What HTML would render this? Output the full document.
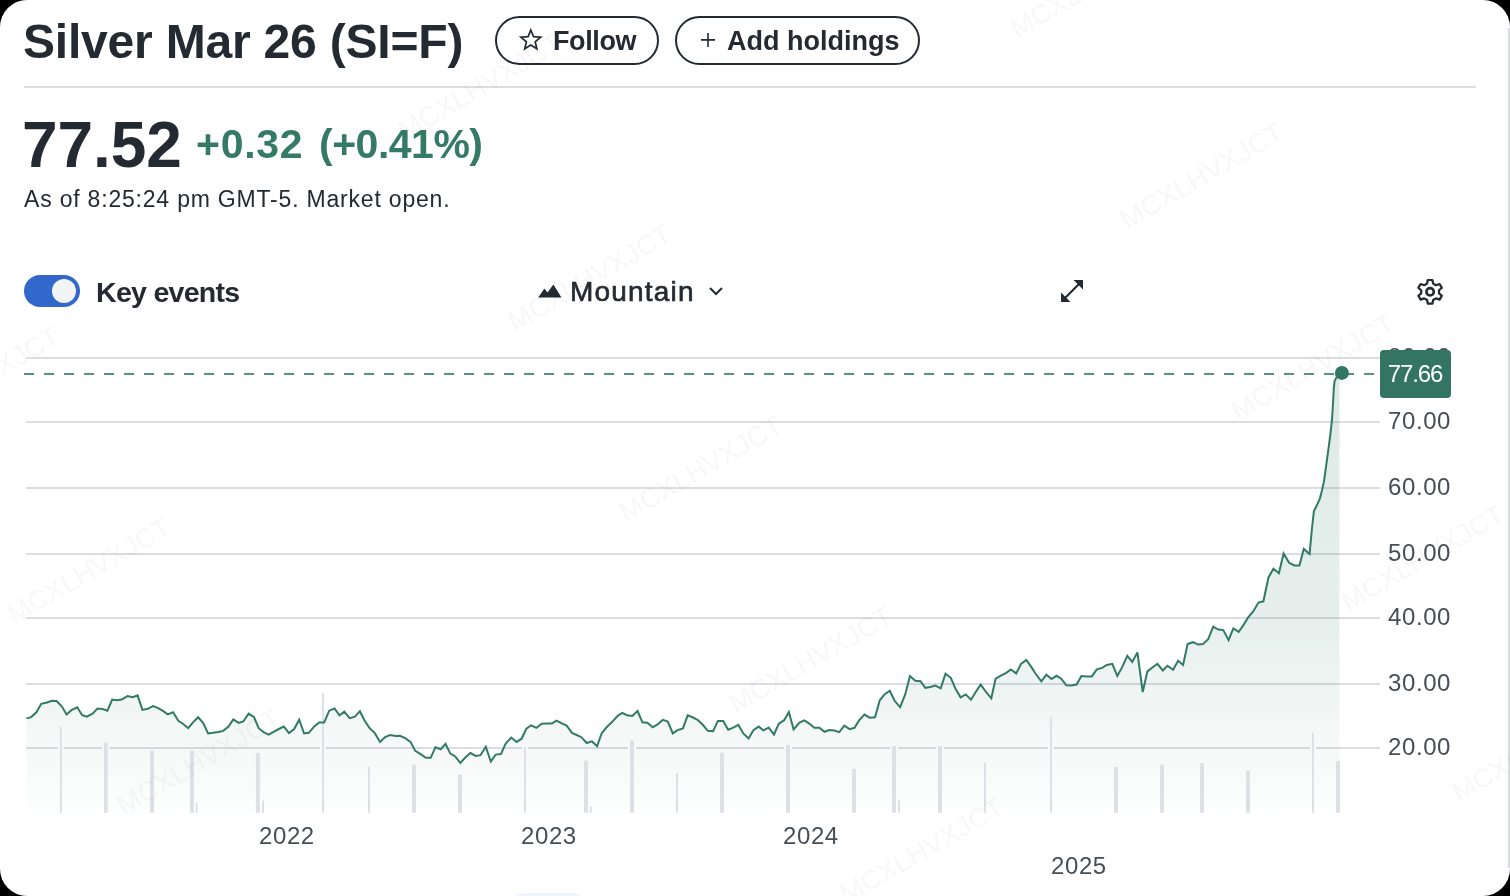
<!DOCTYPE html>
<html><head><meta charset="utf-8">
<style>
html,body{margin:0;padding:0;background:#000;}
body{width:1510px;height:896px;overflow:hidden;position:relative;font-family:"Liberation Sans",sans-serif;color:#232a31;}
.card{position:absolute;left:0;top:0;width:1510px;height:896px;background:#fff;border-radius:27px;overflow:hidden;}
.strip{position:absolute;left:1508px;top:28px;width:2px;height:840px;background:#dcdde1;}
.abs{position:absolute;white-space:nowrap;}
.title{left:23px;top:13.5px;font-size:48px;font-weight:bold;line-height:56px;letter-spacing:-0.2px;}
.btn{position:absolute;top:16px;height:45px;border:2px solid #232a31;border-radius:26px;box-sizing:content-box;}
.btn span{position:absolute;font-size:27px;font-weight:bold;line-height:30px;top:8px;}
.divider{position:absolute;left:24px;top:86px;width:1452px;height:2px;background:#dcdde2;}
.price{left:22px;top:105px;font-size:64px;font-weight:bold;line-height:80px;letter-spacing:-0.1px;}
.chg{font-size:41px;font-weight:bold;color:#347a67;line-height:50px;top:119px;}
.asof{left:24px;top:185px;font-size:23px;line-height:28px;color:#232a31;letter-spacing:0.8px;}
.toggle{position:absolute;left:24px;top:275px;width:56px;height:32px;border-radius:16px;background:#3267cc;}
.knob{position:absolute;left:28px;top:4px;width:24px;height:24px;border-radius:12px;background:#f3f4f6;}
.ke{left:96px;top:274.5px;font-size:28.5px;font-weight:bold;line-height:34px;letter-spacing:-0.7px;}
.mt{left:570px;top:275px;font-size:28px;line-height:34px;font-weight:normal;-webkit-text-stroke:0.65px #232a31;letter-spacing:1.2px;}
.ylab{position:absolute;left:1388px;font-size:24px;line-height:24px;color:#464e56;letter-spacing:0.6px;margin-top:-1px;}
.xlab{position:absolute;font-size:24px;line-height:24px;color:#464e56;letter-spacing:0.6px;}
.chart{position:absolute;left:0;top:0;}
.pricebox{position:absolute;left:1380px;top:350px;width:71px;height:48px;border-radius:4px;background:#337562;color:#fff;font-size:24px;line-height:48px;text-align:center;letter-spacing:-1.1px;text-indent:-1px;}
.wm{position:absolute;width:220px;height:32px;font-size:27.5px;line-height:32px;text-align:center;color:rgba(0,0,0,0.03);transform:rotate(-30deg);font-weight:normal;}
</style></head><body>
<div class="card" style="will-change:transform">
<div class="strip"></div>
<div class="abs title">Silver Mar 26 (SI=F)</div>
<div class="btn" style="left:495px;width:160px;">
  <span style="left:56px;font-size:27px;top:7.5px;letter-spacing:-0.4px">Follow</span>
</div>
<div class="btn" style="left:675px;width:241px;">
  <span style="left:50px;top:8px">Add holdings</span>
</div>
<svg style="position:absolute;left:0;top:0" width="1510" height="320" viewBox="0 0 1510 320">
<path d="M530.80 30.00 L533.50 36.68 L540.69 37.19 L535.17 41.82 L536.91 48.81 L530.80 45.00 L524.69 48.81 L526.43 41.82 L520.91 37.19 L528.10 36.68 Z" fill="none" stroke="#232a31" stroke-width="1.7" stroke-linejoin="miter"/>
<path d="M708 32.9 V46.9 M701 39.9 H715" stroke="#232a31" stroke-width="1.6"/>
<path d="M538.2 297.4 L544.4 288.4 L547.5 292.6 L553.4 284.4 L561.5 297.4 Z" fill="#232a31"/>
<path d="M710 288 L716 294 L722 288" fill="none" stroke="#232a31" stroke-width="2"/>
<path d="M1073.5 280 H1083 V289.5 Z M1061 292.5 V302 H1070.5 Z" fill="#232a31"/><path d="M1064.5 298.5 L1079.5 283.5" stroke="#232a31" stroke-width="2.2"/>
<g transform="translate(1415.4,278) scale(1.05,1.0)"><path d="M11.8 2 H16.2 L16.9 5.6 L19.6 7.2 L23 6 L25.2 9.8 L22.5 12.2 V15.4 L25.2 17.8 L23 21.6 L19.6 20.4 L16.9 22 L16.2 25.6 H11.8 L11.1 22 L8.4 20.4 L5 21.6 L2.8 17.8 L5.5 15.4 V12.2 L2.8 9.8 L5 6 L8.4 7.2 L11.1 5.6 Z" fill="none" stroke="#232a31" stroke-width="2.2" stroke-linejoin="round"/></g>
<circle cx="1430.1" cy="291.8" r="3.7" fill="none" stroke="#232a31" stroke-width="2.6"/>
</svg>
<div class="divider"></div>
<div class="abs price">77.52</div>
<div class="abs chg" style="left:196px;letter-spacing:0.7px">+0.32</div>
<div class="abs chg" style="left:319px;letter-spacing:-0.5px">(+0.41%)</div>
<div class="abs asof">As of 8:25:24 pm GMT-5. Market open.</div>
<div class="toggle"><div class="knob"></div></div>
<div class="abs ke">Key events</div>
<div class="abs mt">Mountain</div>
<svg class="chart" width="1510" height="896" viewBox="0 0 1510 896">
<defs><linearGradient id="fg" x1="0" y1="373" x2="0" y2="813" gradientUnits="userSpaceOnUse"><stop offset="0" stop-color="#2f7a62" stop-opacity="0.16"/><stop offset="0.55" stop-color="#2f7a62" stop-opacity="0.12"/><stop offset="0.85" stop-color="#2f7a62" stop-opacity="0.045"/><stop offset="1" stop-color="#2f7a62" stop-opacity="0.01"/></linearGradient></defs>
<rect x="26" y="357" width="1354" height="2" fill="#dcdde2"/>
<rect x="26" y="421" width="1354" height="2" fill="#dcdde2"/>
<rect x="26" y="487" width="1354" height="2" fill="#dcdde2"/>
<rect x="26" y="553" width="1354" height="2" fill="#dcdde2"/>
<rect x="26" y="617" width="1354" height="2" fill="#dcdde2"/>
<rect x="26" y="683" width="1354" height="2" fill="#dcdde2"/>
<rect x="26" y="747" width="1354" height="2" fill="#dcdde2"/>
<rect x="57.9" y="726.7" width="6.0" height="86.1" fill="#fff"/>
<rect x="102.0" y="742.7" width="7.8" height="70.1" fill="#fff"/>
<rect x="148.0" y="750.8" width="8.0" height="62.0" fill="#fff"/>
<rect x="188.0" y="750.8" width="8.0" height="62.0" fill="#fff"/>
<rect x="193.6" y="802.8" width="6.0" height="10.0" fill="#fff"/>
<rect x="253.9" y="752.9" width="8.0" height="59.9" fill="#fff"/>
<rect x="260.0" y="800.7" width="6.0" height="12.1" fill="#fff"/>
<rect x="320.0" y="692.9" width="6.0" height="119.9" fill="#fff"/>
<rect x="366.0" y="767.0" width="6.0" height="45.8" fill="#fff"/>
<rect x="410.0" y="764.7" width="8.0" height="48.1" fill="#fff"/>
<rect x="456.0" y="774.7" width="8.0" height="38.1" fill="#fff"/>
<rect x="522.0" y="747.2" width="6.0" height="65.6" fill="#fff"/>
<rect x="582.0" y="760.6" width="8.0" height="52.2" fill="#fff"/>
<rect x="587.8" y="806.6" width="6.0" height="6.2" fill="#fff"/>
<rect x="628.0" y="740.6" width="8.0" height="72.2" fill="#fff"/>
<rect x="674.0" y="773.0" width="6.0" height="39.8" fill="#fff"/>
<rect x="718.0" y="752.7" width="8.0" height="60.1" fill="#fff"/>
<rect x="784.0" y="745.0" width="8.0" height="67.8" fill="#fff"/>
<rect x="850.0" y="768.7" width="8.0" height="44.1" fill="#fff"/>
<rect x="890.0" y="746.0" width="8.0" height="66.8" fill="#fff"/>
<rect x="896.0" y="800.5" width="6.0" height="12.3" fill="#fff"/>
<rect x="936.0" y="746.0" width="8.0" height="66.8" fill="#fff"/>
<rect x="982.0" y="762.6" width="6.0" height="50.2" fill="#fff"/>
<rect x="1048.0" y="717.0" width="6.0" height="95.8" fill="#fff"/>
<rect x="1112.0" y="767.0" width="8.0" height="45.8" fill="#fff"/>
<rect x="1158.0" y="764.7" width="8.0" height="48.1" fill="#fff"/>
<rect x="1198.0" y="763.0" width="8.0" height="49.8" fill="#fff"/>
<rect x="1244.0" y="770.7" width="8.0" height="42.1" fill="#fff"/>
<rect x="1310.0" y="732.8" width="6.0" height="80.0" fill="#fff"/>
<rect x="1334.0" y="760.9" width="8.0" height="51.9" fill="#fff"/>
<path d="M26.4,718.4 L31.1,717.1 L36.4,712.3 L41.2,703.8 L47.0,702.5 L51.8,700.7 L56.6,701.0 L61.9,706.5 L66.6,714.4 L71.4,710.2 L77.2,707.3 L82.0,715.0 L86.8,716.6 L92.6,713.7 L97.4,708.6 L102.6,709.1 L107.4,710.7 L112.2,699.6 L117.0,700.3 L121.7,699.6 L127.5,696.1 L132.8,697.2 L137.6,695.4 L142.4,709.9 L147.7,708.8 L153.0,706.0 L157.7,707.8 L162.5,710.7 L167.8,714.4 L173.1,712.3 L178.4,720.8 L182.9,723.7 L188.2,728.2 L193.0,722.4 L198.1,717.3 L203.1,722.9 L208.1,733.5 L213.1,732.8 L218.4,731.9 L223.2,730.9 L228.5,726.6 L233.3,719.4 L238.6,722.9 L243.3,721.5 L248.6,713.7 L253.9,716.9 L258.7,728.2 L264.0,732.5 L268.8,734.6 L273.5,731.9 L278.8,729.0 L283.9,726.6 L288.9,733.0 L294.2,729.0 L299.2,719.7 L304.1,733.5 L308.7,732.8 L314.3,726.4 L319.1,722.4 L324.2,722.4 L329.2,710.7 L334.5,708.4 L339.5,715.4 L344.3,711.7 L349.6,718.1 L354.9,716.7 L359.9,711.2 L364.4,720.2 L369.2,727.6 L375.0,733.4 L380.0,741.9 L385.1,737.2 L389.9,735.0 L395.7,736.1 L399.9,735.8 L405.2,738.2 L410.5,741.9 L415.3,750.9 L420.6,754.1 L425.9,757.8 L430.7,757.8 L435.4,747.2 L440.7,749.3 L445.5,743.8 L450.3,753.6 L455.0,756.2 L460.3,762.9 L465.6,757.3 L470.4,753.0 L475.7,755.9 L480.5,755.2 L485.8,746.7 L490.8,761.5 L495.6,754.6 L500.9,754.1 L505.7,743.5 L511.3,737.5 L516.6,741.9 L521.6,738.7 L526.3,728.7 L531.1,725.3 L536.4,727.9 L541.7,723.7 L546.5,723.4 L551.8,723.4 L556.5,720.7 L561.8,723.4 L566.6,725.5 L571.9,732.9 L576.7,735.0 L581.4,737.2 L586.7,743.0 L592.0,741.4 L597.1,746.2 L601.6,733.4 L606.6,727.3 L612.2,721.8 L617.5,716.0 L622.2,712.8 L627.0,715.2 L632.3,716.0 L637.6,711.0 L642.4,722.3 L647.4,722.8 L652.7,727.3 L657.5,724.4 L662.8,719.9 L667.8,721.6 L672.8,733.4 L677.6,730.1 L682.9,728.4 L687.7,715.4 L693.0,717.5 L698.1,720.2 L703.0,725.0 L707.8,730.8 L713.1,731.1 L717.9,720.9 L723.2,720.9 L728.2,729.7 L733.2,727.6 L738.3,724.8 L743.3,733.4 L748.6,738.5 L753.4,730.3 L758.7,726.6 L763.4,730.3 L768.7,727.6 L774.0,734.5 L778.8,723.7 L784.1,720.2 L788.9,712.0 L793.6,729.4 L799.5,722.6 L804.3,720.4 L809.3,723.6 L814.3,727.8 L819.4,727.8 L824.5,731.8 L829.4,730.1 L834.4,730.5 L839.3,732.1 L844.3,725.7 L849.6,729.1 L854.5,727.8 L859.1,720.4 L864.4,714.6 L869.7,717.7 L875.0,717.2 L879.8,700.3 L884.5,694.4 L889.8,690.7 L894.6,700.8 L900.1,707.2 L905.2,694.4 L910.0,676.1 L915.3,680.7 L920.6,681.2 L925.3,687.8 L930.4,687.0 L935.4,685.6 L940.7,688.4 L945.5,673.6 L950.8,677.8 L955.8,689.3 L960.6,697.3 L965.7,694.4 L971.0,699.7 L976.0,691.5 L980.7,684.6 L986.0,692.0 L991.3,698.3 L995.6,678.7 L1000.9,675.6 L1006.2,672.9 L1010.9,669.4 L1016.2,673.4 L1021.0,663.9 L1026.3,659.9 L1031.1,666.6 L1035.8,674.0 L1041.3,681.4 L1046.4,674.7 L1051.5,679.0 L1056.5,675.8 L1061.3,678.7 L1066.3,685.3 L1071.3,685.6 L1076.6,684.6 L1081.4,676.1 L1086.7,676.6 L1091.8,676.4 L1096.8,669.4 L1102.1,667.9 L1106.8,665.0 L1112.3,663.8 L1117.3,675.9 L1122.3,666.9 L1127.3,655.8 L1132.3,661.9 L1137.4,652.4 L1142.7,692.0 L1147.4,671.4 L1152.4,667.5 L1157.4,663.8 L1162.8,670.5 L1167.5,665.8 L1173.1,669.7 L1178.1,660.8 L1183.1,664.9 L1187.6,644.1 L1193.1,642.2 L1198.2,644.6 L1203.0,644.1 L1208.2,639.1 L1213.2,626.6 L1218.3,629.6 L1223.3,630.1 L1228.6,640.2 L1233.3,628.5 L1238.7,631.8 L1243.4,625.1 L1247.8,617.9 L1253.4,611.2 L1258.4,602.5 L1263.4,601.3 L1268.4,577.7 L1273.4,568.8 L1278.9,573.3 L1283.6,553.4 L1289.1,562.8 L1294.4,565.5 L1299.4,565.5 L1303.8,548.9 L1309.6,553.9 L1311.8,530.0 L1313.9,511.1 L1316.1,506.8 L1319.8,498.8 L1321.9,490.8 L1324.1,480.6 L1326.3,464.7 L1328.5,448.7 L1330.3,435.0 L1332.0,419.7 L1333.2,400.0 L1333.8,388.0 L1334.6,381.0 L1336.3,377.8 L1339.5,375.5 L1339.5,812.8 L26.4,812.8 Z" fill="url(#fg)"/>
<rect x="59.9" y="726.7" width="2.0" height="86.1" fill="#dde1e5"/>
<rect x="104.0" y="742.7" width="3.8" height="70.1" fill="#dde1e5"/>
<rect x="150.0" y="750.8" width="4.0" height="62.0" fill="#dde1e5"/>
<rect x="190.0" y="750.8" width="4.0" height="62.0" fill="#dde1e5"/>
<rect x="195.6" y="802.8" width="2.0" height="10.0" fill="#dde1e5"/>
<rect x="255.9" y="752.9" width="4.0" height="59.9" fill="#dde1e5"/>
<rect x="262.0" y="800.7" width="2.0" height="12.1" fill="#dde1e5"/>
<rect x="322.0" y="692.9" width="2.0" height="119.9" fill="#dde1e5"/>
<rect x="368.0" y="767.0" width="2.0" height="45.8" fill="#dde1e5"/>
<rect x="412.0" y="764.7" width="4.0" height="48.1" fill="#dde1e5"/>
<rect x="458.0" y="774.7" width="4.0" height="38.1" fill="#dde1e5"/>
<rect x="524.0" y="747.2" width="2.0" height="65.6" fill="#dde1e5"/>
<rect x="584.0" y="760.6" width="4.0" height="52.2" fill="#dde1e5"/>
<rect x="589.8" y="806.6" width="2.0" height="6.2" fill="#dde1e5"/>
<rect x="630.0" y="740.6" width="4.0" height="72.2" fill="#dde1e5"/>
<rect x="676.0" y="773.0" width="2.0" height="39.8" fill="#dde1e5"/>
<rect x="720.0" y="752.7" width="4.0" height="60.1" fill="#dde1e5"/>
<rect x="786.0" y="745.0" width="4.0" height="67.8" fill="#dde1e5"/>
<rect x="852.0" y="768.7" width="4.0" height="44.1" fill="#dde1e5"/>
<rect x="892.0" y="746.0" width="4.0" height="66.8" fill="#dde1e5"/>
<rect x="898.0" y="800.5" width="2.0" height="12.3" fill="#dde1e5"/>
<rect x="938.0" y="746.0" width="4.0" height="66.8" fill="#dde1e5"/>
<rect x="984.0" y="762.6" width="2.0" height="50.2" fill="#dde1e5"/>
<rect x="1050.0" y="717.0" width="2.0" height="95.8" fill="#dde1e5"/>
<rect x="1114.0" y="767.0" width="4.0" height="45.8" fill="#dde1e5"/>
<rect x="1160.0" y="764.7" width="4.0" height="48.1" fill="#dde1e5"/>
<rect x="1200.0" y="763.0" width="4.0" height="49.8" fill="#dde1e5"/>
<rect x="1246.0" y="770.7" width="4.0" height="42.1" fill="#dde1e5"/>
<rect x="1312.0" y="732.8" width="2.0" height="80.0" fill="#dde1e5"/>
<rect x="1336.0" y="760.9" width="4.0" height="51.9" fill="#dde1e5"/>
<path d="M26.4,718.4 L31.1,717.1 L36.4,712.3 L41.2,703.8 L47.0,702.5 L51.8,700.7 L56.6,701.0 L61.9,706.5 L66.6,714.4 L71.4,710.2 L77.2,707.3 L82.0,715.0 L86.8,716.6 L92.6,713.7 L97.4,708.6 L102.6,709.1 L107.4,710.7 L112.2,699.6 L117.0,700.3 L121.7,699.6 L127.5,696.1 L132.8,697.2 L137.6,695.4 L142.4,709.9 L147.7,708.8 L153.0,706.0 L157.7,707.8 L162.5,710.7 L167.8,714.4 L173.1,712.3 L178.4,720.8 L182.9,723.7 L188.2,728.2 L193.0,722.4 L198.1,717.3 L203.1,722.9 L208.1,733.5 L213.1,732.8 L218.4,731.9 L223.2,730.9 L228.5,726.6 L233.3,719.4 L238.6,722.9 L243.3,721.5 L248.6,713.7 L253.9,716.9 L258.7,728.2 L264.0,732.5 L268.8,734.6 L273.5,731.9 L278.8,729.0 L283.9,726.6 L288.9,733.0 L294.2,729.0 L299.2,719.7 L304.1,733.5 L308.7,732.8 L314.3,726.4 L319.1,722.4 L324.2,722.4 L329.2,710.7 L334.5,708.4 L339.5,715.4 L344.3,711.7 L349.6,718.1 L354.9,716.7 L359.9,711.2 L364.4,720.2 L369.2,727.6 L375.0,733.4 L380.0,741.9 L385.1,737.2 L389.9,735.0 L395.7,736.1 L399.9,735.8 L405.2,738.2 L410.5,741.9 L415.3,750.9 L420.6,754.1 L425.9,757.8 L430.7,757.8 L435.4,747.2 L440.7,749.3 L445.5,743.8 L450.3,753.6 L455.0,756.2 L460.3,762.9 L465.6,757.3 L470.4,753.0 L475.7,755.9 L480.5,755.2 L485.8,746.7 L490.8,761.5 L495.6,754.6 L500.9,754.1 L505.7,743.5 L511.3,737.5 L516.6,741.9 L521.6,738.7 L526.3,728.7 L531.1,725.3 L536.4,727.9 L541.7,723.7 L546.5,723.4 L551.8,723.4 L556.5,720.7 L561.8,723.4 L566.6,725.5 L571.9,732.9 L576.7,735.0 L581.4,737.2 L586.7,743.0 L592.0,741.4 L597.1,746.2 L601.6,733.4 L606.6,727.3 L612.2,721.8 L617.5,716.0 L622.2,712.8 L627.0,715.2 L632.3,716.0 L637.6,711.0 L642.4,722.3 L647.4,722.8 L652.7,727.3 L657.5,724.4 L662.8,719.9 L667.8,721.6 L672.8,733.4 L677.6,730.1 L682.9,728.4 L687.7,715.4 L693.0,717.5 L698.1,720.2 L703.0,725.0 L707.8,730.8 L713.1,731.1 L717.9,720.9 L723.2,720.9 L728.2,729.7 L733.2,727.6 L738.3,724.8 L743.3,733.4 L748.6,738.5 L753.4,730.3 L758.7,726.6 L763.4,730.3 L768.7,727.6 L774.0,734.5 L778.8,723.7 L784.1,720.2 L788.9,712.0 L793.6,729.4 L799.5,722.6 L804.3,720.4 L809.3,723.6 L814.3,727.8 L819.4,727.8 L824.5,731.8 L829.4,730.1 L834.4,730.5 L839.3,732.1 L844.3,725.7 L849.6,729.1 L854.5,727.8 L859.1,720.4 L864.4,714.6 L869.7,717.7 L875.0,717.2 L879.8,700.3 L884.5,694.4 L889.8,690.7 L894.6,700.8 L900.1,707.2 L905.2,694.4 L910.0,676.1 L915.3,680.7 L920.6,681.2 L925.3,687.8 L930.4,687.0 L935.4,685.6 L940.7,688.4 L945.5,673.6 L950.8,677.8 L955.8,689.3 L960.6,697.3 L965.7,694.4 L971.0,699.7 L976.0,691.5 L980.7,684.6 L986.0,692.0 L991.3,698.3 L995.6,678.7 L1000.9,675.6 L1006.2,672.9 L1010.9,669.4 L1016.2,673.4 L1021.0,663.9 L1026.3,659.9 L1031.1,666.6 L1035.8,674.0 L1041.3,681.4 L1046.4,674.7 L1051.5,679.0 L1056.5,675.8 L1061.3,678.7 L1066.3,685.3 L1071.3,685.6 L1076.6,684.6 L1081.4,676.1 L1086.7,676.6 L1091.8,676.4 L1096.8,669.4 L1102.1,667.9 L1106.8,665.0 L1112.3,663.8 L1117.3,675.9 L1122.3,666.9 L1127.3,655.8 L1132.3,661.9 L1137.4,652.4 L1142.7,692.0 L1147.4,671.4 L1152.4,667.5 L1157.4,663.8 L1162.8,670.5 L1167.5,665.8 L1173.1,669.7 L1178.1,660.8 L1183.1,664.9 L1187.6,644.1 L1193.1,642.2 L1198.2,644.6 L1203.0,644.1 L1208.2,639.1 L1213.2,626.6 L1218.3,629.6 L1223.3,630.1 L1228.6,640.2 L1233.3,628.5 L1238.7,631.8 L1243.4,625.1 L1247.8,617.9 L1253.4,611.2 L1258.4,602.5 L1263.4,601.3 L1268.4,577.7 L1273.4,568.8 L1278.9,573.3 L1283.6,553.4 L1289.1,562.8 L1294.4,565.5 L1299.4,565.5 L1303.8,548.9 L1309.6,553.9 L1311.8,530.0 L1313.9,511.1 L1316.1,506.8 L1319.8,498.8 L1321.9,490.8 L1324.1,480.6 L1326.3,464.7 L1328.5,448.7 L1330.3,435.0 L1332.0,419.7 L1333.2,400.0 L1333.8,388.0 L1334.6,381.0 L1336.3,377.8 L1339.5,375.5" fill="none" stroke="#317b66" stroke-width="2.0" stroke-linejoin="miter" stroke-miterlimit="3" stroke-linecap="butt"/>
<line x1="24" y1="374" x2="1380" y2="374" stroke="#579380" stroke-width="2" stroke-dasharray="10 10"/>
<circle cx="1341.9" cy="372.9" r="7" fill="#337562"/>
</svg>
<div class="ylab" style="top:346px">80.00</div>
<div class="ylab" style="top:410px">70.00</div>
<div class="ylab" style="top:476px">60.00</div>
<div class="ylab" style="top:542px">50.00</div>
<div class="ylab" style="top:606px">40.00</div>
<div class="ylab" style="top:672px">30.00</div>
<div class="ylab" style="top:736px">20.00</div>
<div class="pricebox">77.66</div>
<div class="xlab" style="left:259px;top:824px">2022</div>
<div class="xlab" style="left:521px;top:824px">2023</div>
<div class="xlab" style="left:783px;top:824px">2024</div>
<div class="xlab" style="left:1051px;top:854px">2025</div>
<div style="position:absolute;left:512px;top:893px;width:73px;height:24px;border-radius:12px;background:#eef5fd;"></div>
<div class="wm" style="left:-242.5px;top:173px">MCXLHVXJCT</div>
<div class="wm" style="left:-132.0px;top:364px">MCXLHVXJCT</div>
<div class="wm" style="left:-21.5px;top:555px">MCXLHVXJCT</div>
<div class="wm" style="left:89.0px;top:746px">MCXLHVXJCT</div>
<div class="wm" style="left:199.5px;top:937px">MCXLHVXJCT</div>
<div class="wm" style="left:369.5px;top:71px">MCXLHVXJCT</div>
<div class="wm" style="left:480.0px;top:262px">MCXLHVXJCT</div>
<div class="wm" style="left:590.5px;top:453px">MCXLHVXJCT</div>
<div class="wm" style="left:701.0px;top:644px">MCXLHVXJCT</div>
<div class="wm" style="left:811.5px;top:835px">MCXLHVXJCT</div>
<div class="wm" style="left:981.5px;top:-31px">MCXLHVXJCT</div>
<div class="wm" style="left:1092.0px;top:160px">MCXLHVXJCT</div>
<div class="wm" style="left:1202.5px;top:351px">MCXLHVXJCT</div>
<div class="wm" style="left:1313.0px;top:542px">MCXLHVXJCT</div>
<div class="wm" style="left:1423.5px;top:733px">MCXLHVXJCT</div>
<div class="wm" style="left:1534.0px;top:924px">MCXLHVXJCT</div>
</div>
</body></html>
